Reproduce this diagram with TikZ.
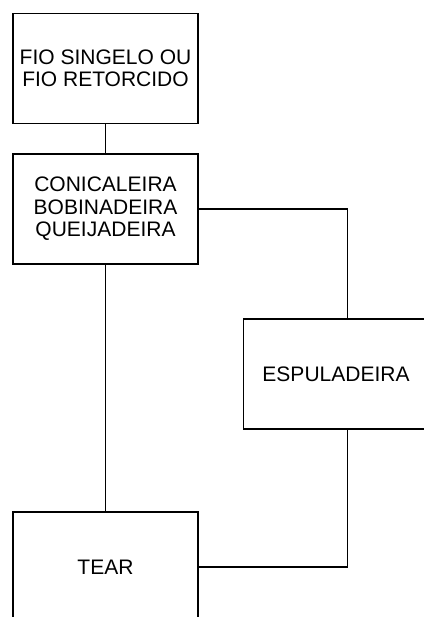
\documentclass[tikz,border=0pt]{standalone}
\usepackage{fontspec}
\setmainfont{Liberation Sans}
\begin{document}
\begin{tikzpicture}[x=1pt,y=-1pt,
	caixa/.style={draw, line width=1.6pt, minimum width=185pt, minimum height=110pt, inner sep=0pt, align=center, font=\fontsize{21}{22.5}\selectfont},
	liga/.style={line width=1.6pt}]

\useasboundingbox (0,0) rectangle (423,617);

	\node[caixa] (fio) at (105.5,68.5) {FIO SINGELO OU\\FIO RETORCIDO};
	\node[caixa] (cone) at (105.5,209) {CONICALEIRA\\BOBINADEIRA\\QUEIJADEIRA};
	\node[caixa] (espula) at (336,374) {ESPULADEIRA};
	\node[caixa] (tear) at (105.5,567) {TEAR};

	\draw[liga] (fio.south) -- (cone.north);
	\draw[liga] (cone.south) -- (tear.north);
	\draw[liga] (cone.east) -| ([xshift=11.5pt]espula.north);
	\draw[liga] ([xshift=11.5pt]espula.south) |- (tear.east);

\end{tikzpicture}
\end{document}
